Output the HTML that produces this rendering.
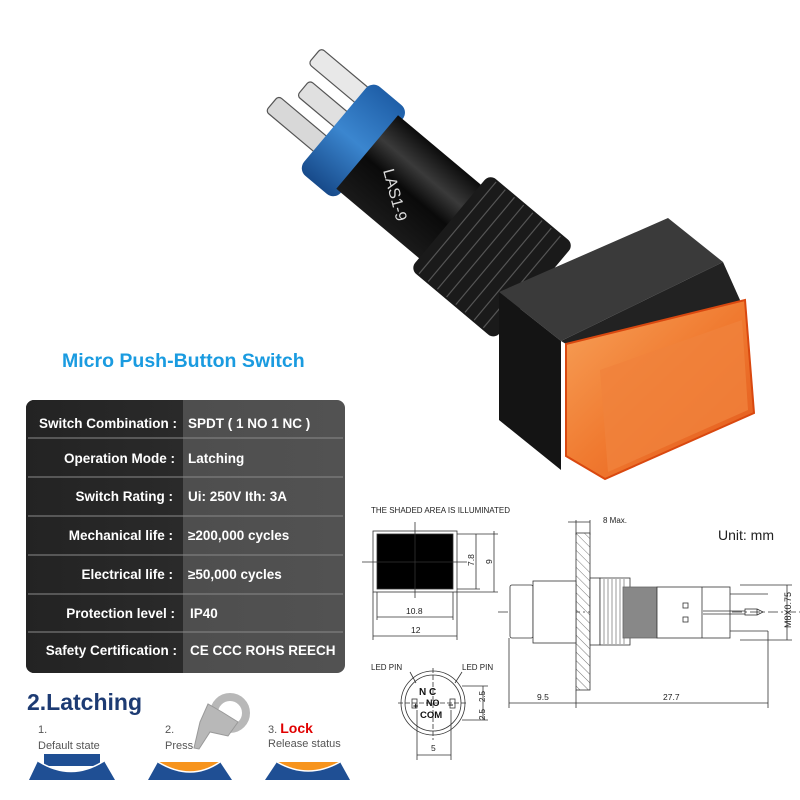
<!DOCTYPE html>
<html><head><meta charset="utf-8"><style>
html,body{margin:0;padding:0;background:#fff;}
svg{display:block;}
.t{font-family:"Liberation Sans",sans-serif;}
</style></head><body>
<svg width="800" height="800" viewBox="0 0 800 800" xmlns="http://www.w3.org/2000/svg" class="t">
<defs>
<linearGradient id="tbl" x1="0" y1="0" x2="1" y2="0">
<stop offset="0" stop-color="#232323"/><stop offset="1" stop-color="#2a2a2a"/></linearGradient>
<linearGradient id="tbr" x1="0" y1="0" x2="1" y2="0">
<stop offset="0" stop-color="#4a4a4a"/><stop offset="1" stop-color="#525252"/></linearGradient>
<linearGradient id="blue" x1="0" y1="0" x2="0" y2="1">
<stop offset="0" stop-color="#1f5fa8"/><stop offset=".5" stop-color="#3b86cf"/><stop offset="1" stop-color="#174a8a"/></linearGradient>
<linearGradient id="blk" x1="0" y1="0" x2="0" y2="1">
<stop offset="0" stop-color="#0c0c0c"/><stop offset=".3" stop-color="#3a3a3a"/><stop offset=".55" stop-color="#0a0a0a"/><stop offset="1" stop-color="#1a1a1a"/></linearGradient>
<linearGradient id="org" x1="0" y1="0" x2="1" y2="1">
<stop offset="0" stop-color="#f7a25a"/><stop offset=".5" stop-color="#f07a30"/><stop offset="1" stop-color="#e2561a"/></linearGradient>
<pattern id="hatch" width="6" height="6" patternUnits="userSpaceOnUse" patternTransform="rotate(-45)">
<line x1="0" y1="0" x2="0" y2="6" stroke="#555" stroke-width="0.8"/></pattern>
</defs>

<!-- PRODUCT -->
<g transform="translate(335,125) rotate(40)">
  <!-- pins -->
  <rect x="-60" y="-50" width="75" height="20" rx="4" fill="#e8e8e8" stroke="#555" stroke-width="1.2"/>
  <rect x="-48" y="-18" width="62" height="20" rx="4" fill="#e0e0e0" stroke="#555" stroke-width="1.2"/>
  <rect x="-62" y="14" width="76" height="20" rx="4" fill="#d8d8d8" stroke="#555" stroke-width="1.2"/>
  <!-- blue ring -->
  <rect x="0" y="-58" width="48" height="116" rx="10" fill="url(#blue)"/>
  <!-- black body -->
  <rect x="42" y="-48" width="130" height="96" fill="url(#blk)"/>
  <text x="66" y="4" fill="#ddd" font-size="16" transform="rotate(35 66 4)">LAS1-9</text>
  <!-- nut -->
  <rect x="150" y="-62" width="110" height="124" rx="8" fill="#1a1a1a"/>
  <g stroke="#555" stroke-width="1.2">
  <line x1="160" y1="-60" x2="160" y2="60"/><line x1="172" y1="-60" x2="172" y2="60"/>
  <line x1="184" y1="-60" x2="184" y2="60"/><line x1="196" y1="-60" x2="196" y2="60"/>
  <line x1="208" y1="-60" x2="208" y2="60"/><line x1="220" y1="-60" x2="220" y2="60"/>
  <line x1="232" y1="-60" x2="232" y2="60"/><line x1="244" y1="-60" x2="244" y2="60"/></g>
</g>
<!-- cap -->
<polygon points="499,292 668,218 723,262 561,341" fill="#3a3a3a"/>
<polygon points="499,292 561,341 561,470 499,420" fill="#141414"/>
<polygon points="561,341 723,262 740,300 740,310 566,344" fill="#222"/>
<polygon points="566,344 745,300 754,413 605,479 566,456" fill="url(#org)" stroke="#d9480f" stroke-width="2"/>
<polygon points="600,370 742,320 748,410 608,472" fill="#f0823c" opacity=".8"/>

<!-- TITLE -->
<text x="62" y="367" fill="#1a9be0" font-size="19.5" font-weight="bold">Micro Push-Button Switch</text>

<!-- TABLE -->
<rect x="26" y="400" width="319" height="273" rx="8" fill="url(#tbr)"/>
<path d="M34,400 H183 V673 H34 a8,8 0 0 1 -8,-8 V408 a8,8 0 0 1 8,-8z" fill="url(#tbl)"/>
<g stroke="#8a8a8a" stroke-width="1">
<line x1="28" y1="438" x2="343" y2="438"/><line x1="28" y1="477" x2="343" y2="477"/>
<line x1="28" y1="516" x2="343" y2="516"/><line x1="28" y1="555" x2="343" y2="555"/>
<line x1="28" y1="594" x2="343" y2="594"/><line x1="28" y1="632" x2="343" y2="632"/></g>
<g fill="#fff" font-size="13.5" font-weight="bold" text-anchor="end">
<text x="177" y="428">Switch Combination :</text>
<text x="175" y="463">Operation Mode :</text>
<text x="173" y="501">Switch Rating :</text>
<text x="173" y="540">Mechanical life :</text>
<text x="173" y="579">Electrical life :</text>
<text x="175" y="618">Protection level :</text>
<text x="177" y="655">Safety Certification :</text></g>
<g fill="#fff" font-size="13.5" font-weight="bold">
<text x="188" y="428">SPDT ( 1 NO 1 NC )</text>
<text x="188" y="463">Latching</text>
<text x="188" y="501">Ui: 250V  Ith: 3A</text>
<text x="188" y="540">≥200,000 cycles</text>
<text x="188" y="579">≥50,000 cycles</text>
<text x="190" y="618">IP40</text>
<text x="190" y="655">CE  CCC ROHS REECH</text></g>

<!-- DRAWING -->
<g stroke="#333" stroke-width="0.8" fill="none">
<text x="371" y="513" fill="#222" stroke="none" font-size="8">THE SHADED AREA IS ILLUMINATED</text>
<rect x="373" y="531" width="84" height="61"/>
<rect x="377" y="534" width="76" height="55" fill="#000"/>
<line x1="415" y1="522" x2="415" y2="598"/><line x1="362" y1="562" x2="467" y2="562"/>
<line x1="457" y1="534" x2="498" y2="534"/><line x1="457" y1="589" x2="480" y2="589"/><line x1="457" y1="592" x2="498" y2="592"/>
<line x1="476" y1="534" x2="476" y2="589"/><line x1="494" y1="531" x2="494" y2="592"/>
<line x1="377" y1="592" x2="377" y2="620"/><line x1="453" y1="592" x2="453" y2="620"/>
<line x1="373" y1="592" x2="373" y2="640"/><line x1="457" y1="592" x2="457" y2="640"/>
<line x1="377" y1="617" x2="453" y2="617"/><line x1="373" y1="636" x2="457" y2="636"/>
<text x="406" y="614" fill="#222" stroke="none" font-size="8.5">10.8</text>
<text x="411" y="633" fill="#222" stroke="none" font-size="8.5">12</text>
<text x="0" y="0" fill="#222" stroke="none" font-size="8.5" transform="translate(474,566) rotate(-90)">7.8</text>
<text x="0" y="0" fill="#222" stroke="none" font-size="8.5" transform="translate(492,564) rotate(-90)">9</text>

<!-- side view -->
<line x1="568" y1="522" x2="590" y2="522"/><text x="603" y="523" fill="#222" stroke="none" font-size="8">8 Max.</text>
<line x1="576" y1="520" x2="576" y2="535"/><line x1="590" y1="520" x2="590" y2="535"/>
<rect x="576" y="533" width="14" height="157" fill="url(#hatch)"/>
<line x1="498" y1="612" x2="800" y2="612" stroke-dasharray="10,3,2,3"/>
<rect x="510" y="585" width="23" height="53" rx="2" fill="#fff"/>
<rect x="533" y="581" width="43" height="62" fill="#fff"/>
<rect x="590" y="578" width="10" height="67" fill="#fff"/>
<rect x="600" y="578" width="30" height="67" fill="#fff"/>
<g stroke-width="0.5"><line x1="604" y1="579" x2="604" y2="644"/><line x1="608" y1="579" x2="608" y2="644"/><line x1="612" y1="579" x2="612" y2="644"/><line x1="616" y1="579" x2="616" y2="644"/><line x1="620" y1="579" x2="620" y2="644"/><line x1="624" y1="579" x2="624" y2="644"/></g>
<rect x="623" y="587" width="34" height="51" fill="#888" stroke="#666"/>
<rect x="657" y="587" width="73" height="51" fill="#fff"/>
<line x1="702" y1="587" x2="702" y2="638"/>
<rect x="683" y="603" width="5" height="5"/><rect x="683" y="617" width="5" height="5"/>
<line x1="730" y1="594" x2="768" y2="594"/><line x1="730" y1="631" x2="768" y2="631"/>
<rect x="745" y="609" width="12" height="6"/><line x1="703" y1="611" x2="745" y2="611"/><line x1="703" y1="614" x2="745" y2="614"/>
<line x1="757" y1="609" x2="763" y2="612"/><line x1="757" y1="615" x2="763" y2="612"/>
<line x1="740" y1="585" x2="792" y2="585"/><line x1="740" y1="640" x2="792" y2="640"/>
<line x1="787" y1="585" x2="787" y2="640"/>
<text x="0" y="0" fill="#222" stroke="none" font-size="9" transform="translate(791,628) rotate(-90)">M8X0.75</text>
<line x1="509" y1="638" x2="509" y2="708"/><line x1="576" y1="690" x2="576" y2="708"/><line x1="768" y1="631" x2="768" y2="708"/>
<line x1="509" y1="703" x2="768" y2="703"/>
<text x="537" y="700" fill="#222" stroke="none" font-size="8.5">9.5</text>
<text x="663" y="700" fill="#222" stroke="none" font-size="8.5">27.7</text>

<!-- pin view -->
<text x="371" y="670" fill="#222" stroke="none" font-size="8">LED PIN</text>
<text x="462" y="670" fill="#222" stroke="none" font-size="8">LED PIN</text>
<line x1="410" y1="672" x2="416" y2="683"/><line x1="462" y1="672" x2="455" y2="683"/>
<circle cx="433" cy="703" r="32"/><circle cx="433" cy="703" r="28"/>
<line x1="398" y1="703" x2="468" y2="703" stroke-dasharray="5,2"/><line x1="433" y1="668" x2="433" y2="740" stroke-dasharray="5,2"/>
<text x="419" y="695" fill="#111" stroke="none" font-size="10" font-weight="bold">N   C</text>
<text x="426" y="706" fill="#111" stroke="none" font-size="9" font-weight="bold">NO</text>
<text x="420" y="718" fill="#111" stroke="none" font-size="9.5" font-weight="bold">COM</text>
<text x="413" y="709" fill="#111" stroke="none" font-size="9" font-weight="bold">+</text>
<text x="448" y="708" fill="#111" stroke="none" font-size="9" font-weight="bold">−</text>
<rect x="412" y="699" width="5" height="9"/><rect x="450" y="699" width="5" height="9"/>
<line x1="462" y1="686" x2="488" y2="686"/><line x1="462" y1="720" x2="488" y2="720"/>
<line x1="483" y1="686" x2="483" y2="720"/>
<text x="0" y="0" fill="#222" stroke="none" font-size="8" transform="translate(485,702) rotate(-90)">2.5</text>
<text x="0" y="0" fill="#222" stroke="none" font-size="8" transform="translate(485,720) rotate(-90)">2.5</text>
<line x1="417" y1="710" x2="417" y2="760"/><line x1="451" y1="710" x2="451" y2="760"/>
<line x1="417" y1="755" x2="451" y2="755"/>
<text x="431" y="751" fill="#222" stroke="none" font-size="8.5">5</text>
</g>
<text x="718" y="540" fill="#222" font-size="14">Unit: mm</text>

<!-- LATCHING -->
<text x="27" y="710" fill="#1d3b73" font-size="23" font-weight="bold">2.Latching</text>
<g fill="#555" font-size="11">
<text x="38" y="733">1.</text><text x="38" y="749">Default state</text>
<text x="165" y="733">2.</text><text x="165" y="749">Press</text>
<text x="268" y="733">3. <tspan fill="#e00000" font-weight="bold" font-size="14">Lock</tspan></text><text x="268" y="747">Release status</text>
</g>
<rect x="44" y="754" width="56" height="12" fill="#1f4f94"/>
<path d="M29,780 L38,761 Q71,782 104,761 L115,780 Z" fill="#1f4f94"/>
<path d="M38,761 Q71,782 104,761" stroke="#fff" stroke-width="1.5" fill="none"/>
<path d="M158,762 Q191,782 220,762 Z" fill="#f7941d"/>
<path d="M148,780 L158,762 Q191,782 220,762 L232,780 Z" fill="#1f4f94"/>
<path d="M158,762 Q191,782 220,762" stroke="#fff" stroke-width="1.5" fill="none"/>
<g fill="#b8b8b8" stroke="#999" stroke-width="1">
<circle cx="230" cy="713" r="16" fill="none" stroke="#b8b8b8" stroke-width="8"/>
<path d="M208,704 L200,722 L194,748 L199,749 L210,732 L228,736 L238,722 L222,712 Z"/>
</g>
<path d="M277,762 Q308,780 340,762 Z" fill="#f7941d"/>
<path d="M265,780 L277,762 Q308,780 340,762 L350,780 Z" fill="#1f4f94"/>
<path d="M277,762 Q308,780 340,762" stroke="#fff" stroke-width="1.5" fill="none"/>
</svg>
</body></html>
